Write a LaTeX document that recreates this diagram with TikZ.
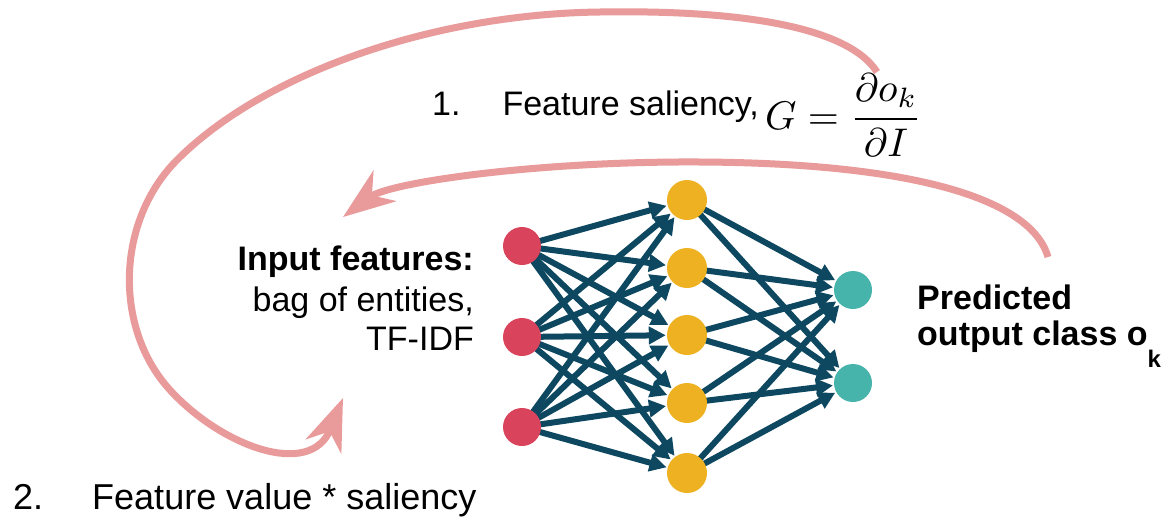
\documentclass[tikz,border=0pt]{standalone}
\usepackage{graphicx}
\usepackage{fontspec}
\setmainfont{Liberation Sans}
\usetikzlibrary{arrows.meta}
\definecolor{pinkarrow}{HTML}{E99A9A}
\definecolor{netedge}{HTML}{0D4860}
\definecolor{inred}{HTML}{D9435C}
\definecolor{hidyellow}{HTML}{EDB122}
\definecolor{outteal}{HTML}{47B4AC}
\pgfdeclarelayer{bg}
\pgfsetlayers{bg,main}
\tikzset{
  neuron/.style={circle, inner sep=0pt, minimum size=#1},
  inneuron/.style={neuron=38pt, fill=inred},
  hidneuron/.style={neuron=40pt, fill=hidyellow},
  outneuron/.style={neuron=38pt, fill=outteal},
  netarrow/.style={draw=netedge, line width=6pt, -{Triangle[length=17pt,width=17pt]}, shorten >=1pt},
  pinkarr/.style={draw=pinkarrow, line width=7pt, -{Stealth[length=52pt,width=38pt,inset=16pt]}},
  lbl/.style={inner sep=0pt, font=\fontsize{34}{40}\selectfont},
  blbl/.style={inner sep=0pt, font=\fontsize{34}{40}\selectfont\bfseries},
}
\begin{document}
\begin{tikzpicture}[x=1pt,y=-1pt]
\useasboundingbox (0,0) rectangle (1174,517);
% neurons
\foreach \i/\y in {1/246,2/337,3/427} \node[inneuron] (i\i) at (522,\y) {};
\foreach \h/\y in {1/200,2/268,3/335,4/403,5/473} \node[hidneuron] (h\h) at (687,\y) {};
\foreach \o/\y in {1/290,2/383} \node[outneuron] (o\o) at (853,\y) {};
\begin{pgfonlayer}{bg}
\fill[white] (0,0) rectangle (1174,517);
\foreach \i in {1,2,3} \foreach \h in {1,...,5} \draw[netarrow] (i\i.center) -- (h\h);
\foreach \h in {1,...,5} \foreach \o in {1,2} \draw[netarrow] (h\h.center) -- (o\o);
\end{pgfonlayer}
% labels
\node[blbl, anchor=base east] (inA) at (474,270) {Input features:};
\node[lbl, anchor=base east] (inB) at (474,311) {bag of entities,};
\node[lbl, anchor=base east] (inC) at (474,350) {TF-IDF};
\node[blbl, anchor=base west] (outA) at (917,309) {Predicted};
\node[blbl, anchor=base west] (outB) at (917,345) {output class o\raisebox{-22pt}{\fontsize{24}{24}\selectfont\bfseries k}};
\node[lbl, anchor=base west] (step1) at (432,115) {1.\hspace{42pt}Feature saliency,};
\node[inner sep=0pt, anchor=base west] (gform) at (765,129) {\scalebox{4}{$\displaystyle G=\frac{\partial o_k}{\partial I}$}};
\node[inner sep=0pt, anchor=base west, font=\fontsize{36}{43}\selectfont] (step2) at (13,509) {2.\hspace{49pt}Feature value * saliency};
% feedback arrows
\coordinate (s1) at (877,72);
\coordinate (e1) at (343,398);
\coordinate (s2) at (1048,257);
\coordinate (e2) at (343,217);
\draw[pinkarr] (s1) .. controls (845,22) and (720,10) .. (600,12)
  .. controls (430,14) and (260,75) .. (175,162)
  .. controls (115,225) and (115,330) .. (170,390)
  .. controls (220,445) and (310,480) .. (e1);
\draw[pinkarr] (s2) .. controls (1030,195) and (900,163) .. (700,162)
  .. controls (540,161) and (390,182) .. (e2);
\end{tikzpicture}
\end{document}
